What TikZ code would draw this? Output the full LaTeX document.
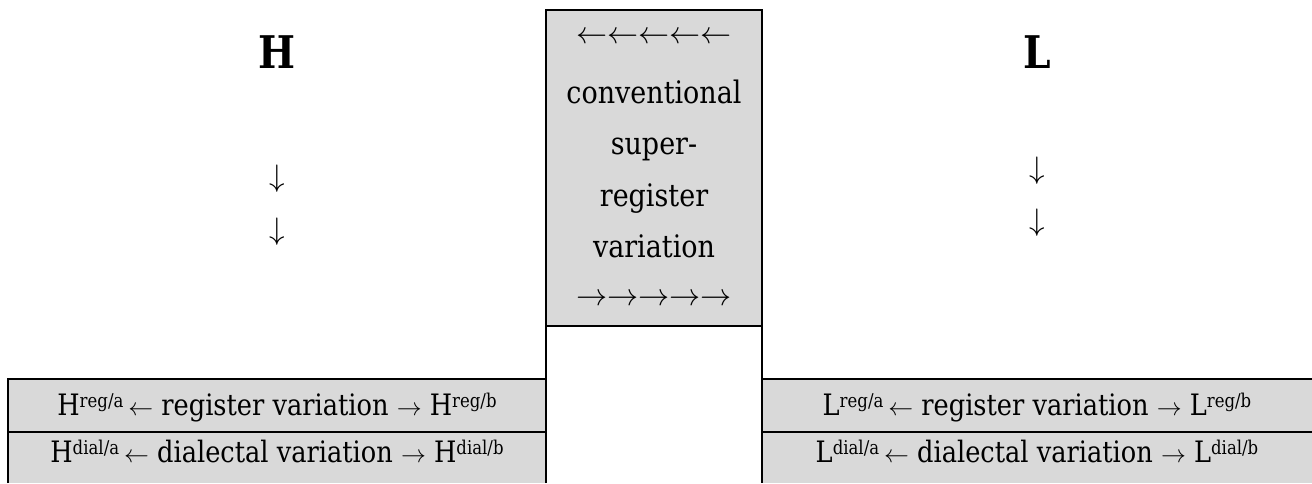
\documentclass[tikz,border=0pt]{standalone}
\usepackage{graphicx}
\usepackage{fontspec}
\setmainfont{DejaVu Serif}[FakeStretch=0.87]
\definecolor{cellgray}{RGB}{217,217,217}
\newcommand\supx[1]{\raisebox{0.25em}{\fontsize{19}{19}\selectfont #1}}
\newcommand\arrl{\scalebox{1.25}{$\leftarrow$}}
\newcommand\arrr{\scalebox{1.25}{$\rightarrow$}}
\newcommand\arrd{\scalebox{1.25}{$\downarrow$}}
\newcommand\rowl{$\leftarrow$}
\newcommand\rowr{$\rightarrow$}
\tikzset{
  area/.style={inner sep=0pt, outer sep=0pt, draw=none},
  grayarea/.style={area, fill=cellgray},
  rule/.style={draw=black, line width=1.7pt, line join=miter},
  txt/.style={inner sep=0pt, outer sep=0pt, font=\fontsize{31}{36}\selectfont},
  rowtxt/.style={inner sep=0pt, outer sep=0pt, font=\fontsize{29.5}{34}\selectfont},
  bigtxt/.style={inner sep=0pt, outer sep=0pt, font=\fontsize{45}{50}\selectfont\bfseries},
}
\begin{document}
\begin{tikzpicture}[x=1pt,y=-1pt]
\useasboundingbox (0,0) rectangle (1312,483);
% areas
\node[grayarea, minimum width=216, minimum height=316] (cbox) at (654,168) {};
\node[area, minimum width=216, minimum height=157] (cbot) at (654,404.5) {};
\node[grayarea, minimum width=538, minimum height=53] (lr1) at (277,405.5) {};
\node[grayarea, minimum width=538, minimum height=51] (lr2) at (277,457.5) {};
\node[grayarea, minimum width=550, minimum height=53] (rr1) at (1037,405.5) {};
\node[grayarea, minimum width=550, minimum height=51] (rr2) at (1037,457.5) {};
% rules
\draw[rule] (cbot.south west) -- (cbox.north west) -- (cbox.north east) -- (cbot.south east);
\draw[rule] (cbox.south west) -- (cbox.south east);
\draw[rule] (lr2.south west) -- (lr1.north west) -- (lr1.north east);
\draw[rule] (lr1.south west) -- (lr1.south east);
\draw[rule] (rr1.north west) -- (rr1.north east);
\draw[rule] (rr1.south west) -- (rr1.south east);
% headings
\node[bigtxt, anchor=base] (H) at (277,68) {H};
\node[bigtxt, anchor=base] (L) at (1037,68) {L};
\node[txt] (hd1) at (277,179) {\arrd};
\node[txt] (hd2) at (277,232) {\arrd};
\node[txt] (ld1) at (1037,171) {\arrd};
\node[txt] (ld2) at (1037,223) {\arrd};
% centre box text
\node[txt] (larr) at (654,38) {\arrl\arrl\arrl\arrl\arrl};
\node[txt, anchor=base] (c1) at (654,103) {conventional};
\node[txt, anchor=base] (c2) at (654,154) {super-};
\node[txt, anchor=base] (c3) at (654,206) {register};
\node[txt, anchor=base] (c4) at (654,257) {variation};
\node[txt] (rarr) at (654,300) {\arrr\arrr\arrr\arrr\arrr};
% table rows
\node[rowtxt, anchor=base] (lt1) at (277,415) {H\supx{reg/a}\,\rowl{} register variation \rowr{} H\supx{reg/b}};
\node[rowtxt, anchor=base] (lt2) at (277,462) {H\supx{dial/a}\,\rowl{} dialectal variation \rowr{} H\supx{dial/b}};
\node[rowtxt, anchor=base] (rt1) at (1037,415) {L\supx{reg/a}\,\rowl{} register variation \rowr{} L\supx{reg/b}};
\node[rowtxt, anchor=base] (rt2) at (1037,462) {L\supx{dial/a}\,\rowl{} dialectal variation \rowr{} L\supx{dial/b}};
\end{tikzpicture}
\end{document}
